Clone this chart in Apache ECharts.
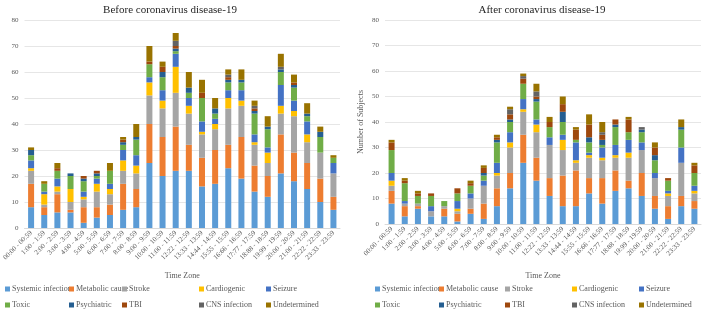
<!DOCTYPE html>
<html><head><meta charset="utf-8">
<script src="https://cdn.jsdelivr.net/npm/echarts@6/dist/echarts.min.js"></script>
<style>html,body{margin:0;padding:0;background:#fff}#c{width:709px;height:312px}</style>
</head><body><div id="c"></div>
<script>
const categories = ["00:00 - 00:59","1:00 - 1:59","2:00 - 2:59","3:00 - 3:59","4:00 - 4:59","5:00 - 5:59","6:00 - 6:59","7:00 - 7:59","8:00 - 8:59","9:00 - 9:59","10:00 - 10:59","11:00 - 11:59","12:22 - 12:59","13:33 - 13:59","14:44 - 14:59","15:55 - 15:59","16:66 - 16:59","17:77 - 17:59","18:88 - 18:59","19:99 - 19:59","20:00 - 20:59","21:00 - 21:59","22:22 - 22:59","23:33 - 23:59"];
const seriesNames = ["Systemic infection","Metabolic cause","Stroke","Cardiogenic","Seizure","Toxic","Psychiatric","TBI","CNS infection","Undetermined"];
const colors = ["#5B9BD5","#ED7D31","#A5A5A5","#FFC000","#4472C4","#70AD47","#255E91","#9E480E","#636363","#997300"];
const yTicks = [0,10,20,30,40,50,60,70,80];

// Before COVID-19
const beforeSystemic   = [8,5,6,6,2,4,5,7,8,25,20,22,22,16,17,23,19,14,12,21,18,15,10,7];
const beforeMetabolic  = [9,3,7,1,6,4,4,10,7,15,15,17,10,11,13,9,16,10,8,15,11,10,9,5];
const beforeStroke     = [5,1,1,3,3,6,4,5,6,11,11,13,12,9,8,14,12,8,5,8,14,8,10,9];
const beforeCardio     = [1,4,2,5,1,3,2,4,3,5,3,10,3,1,2,4,2,1,4,3,2,3,0,0];
const beforeSeizure    = [3,1,3,0,2,2,2,4,4,2,4,5,3,4,2,3,4,3,2,8,4,5,0,4];
const beforeToxic      = [2,3,3,5,4,1,5,2,6,5,5,1,2,9,2,3,3,8,7,5,5,2,6,2];
const beforePsych      = [2,0,0,1,1,1,0,1,1,0,2,1,2,0,2,1,1,1,1,1,1,1,2,0];
const beforeTBI        = [0,0,1,0,1,1,0,1,0,1,2,1,0,2,0,1,0,1,0,0,1,0,0,0];
const beforeCNS        = [0,0,0,0,0,0,0,0,0,0,0,2,0,0,0,1,0,1,0,1,0,0,0,0];
const beforeUndet      = [1,1,2,0,0,0,3,1,5,6,2,3,6,5,4,2,4,2,4,5,3,4,2,1];

// After COVID-19
const afterSystemic    = [8,3,6,3,3,1,4,2,7,14,24,17,11,7,7,12,8,13,14,11,6,2,7,6];
const afterMetabolic   = [5,4,1,0,3,3,2,6,7,6,11,9,7,12,14,6,10,8,3,9,5,5,4,3];
const afterStroke      = [2,1,1,2,1,1,4,7,5,10,9,10,13,10,3,8,7,5,9,9,7,4,13,3];
const afterCardio      = [2,0,0,0,0,1,0,0,1,2,1,3,0,4,1,1,1,1,2,0,0,1,0,1];
const afterSeizure     = [3,1,0,2,0,3,2,2,4,4,4,2,3,2,7,1,4,4,5,3,2,1,6,2];
const afterToxic       = [9,7,3,4,2,3,3,2,8,4,6,7,4,5,1,4,1,7,3,4,5,4,7,5];
const afterPsych       = [0,0,0,0,0,0,0,1,1,1,0,1,0,4,0,2,2,1,0,1,2,0,1,0];
const afterTBI         = [3,1,1,1,0,2,1,2,1,2,2,1,2,3,4,5,2,2,5,0,3,1,0,3];
const afterCNS         = [0,0,0,0,0,0,0,0,0,2,1,2,0,0,0,0,1,0,0,1,0,0,0,0];
const afterUndet       = [1,1,1,0,0,0,1,1,1,1,1,3,2,3,1,4,4,0,1,0,2,0,3,1];

const beforeData = [beforeSystemic,beforeMetabolic,beforeStroke,beforeCardio,beforeSeizure,beforeToxic,beforePsych,beforeTBI,beforeCNS,beforeUndet];
const afterData = [afterSystemic,afterMetabolic,afterStroke,afterCardio,afterSeizure,afterToxic,afterPsych,afterTBI,afterCNS,afterUndet];

const FONT = "Liberation Serif";
const txt = "#595959";

function xAxis(gi){
  return {type:'category', gridIndex:gi, data:categories,
    axisTick:{show:false}, axisLine:{lineStyle:{color:'#d9d9d9'}},
    axisLabel:{rotate:45, fontSize:7, color:txt, fontFamily:FONT, interval:0, margin:4},
    name:'Time Zone', nameLocation:'middle', nameGap:gi===0?44:48,
    nameTextStyle:{fontSize:8, color:txt, fontFamily:FONT}};
}
function yAxis(gi){
  const o = {type:'value', gridIndex:gi, min:0, max:80, interval:10,
    axisLine:{show:false}, axisTick:{show:false},
    splitLine:{lineStyle:{color:'#e6e6e6'}},
    axisLabel:{fontSize:7, color:txt, fontFamily:FONT, margin:6,
      formatter:v=>yTicks.includes(v)?String(v):''}};
  if(gi===1){ o.name='Number of Subjects'; o.nameLocation='middle'; o.nameGap=20;
    o.nameTextStyle={fontSize:8,color:txt,fontFamily:FONT}; }
  return o;
}
const series = [];
[beforeData, afterData].forEach((d,gi)=>{
  d.forEach((arr,i)=>{
    series.push({type:'bar', name:seriesNames[i], stack:'s'+gi, xAxisIndex:gi, yAxisIndex:gi,
      data:arr, barWidth:6, itemStyle:{color:colors[i]}, emphasis:{disabled:true}});
  });
});
const legends = [];
const colXL = [5,69,122,199,266];
const colXR = [375,439,505,572,639];
[colXL,colXR].forEach(cols=>{
  cols.forEach((x,c)=>{
    legends.push({orient:'vertical', left:x, top:285, itemWidth:5, itemHeight:5, itemGap:8,
      padding:0, icon:'rect', data:[seriesNames[c], seriesNames[c+5]],
      textStyle:{fontSize:8, color:txt, fontFamily:FONT, padding:[0,0,0,-3]}});
  });
});
const chart = echarts.init(document.getElementById('c'), null, {renderer:'canvas'});
chart.setOption({
  animation:false,
  color:colors,
  title:[
    {text:'Before coronavirus disease-19', left:165, textAlign:'center', top:0,
      textStyle:{fontSize:11, fontWeight:'normal', color:'#262626', fontFamily:FONT}},
    {text:'After coronavirus disease-19', left:537, textAlign:'center', top:0,
      textStyle:{fontSize:11, fontWeight:'normal', color:'#262626', fontFamily:FONT}}
  ],
  grid:[
    {left:16, right:369, top:20, bottom:84, containLabel:false},
    {left:385, right:8, top:20, bottom:88, containLabel:false}
  ],
  xAxis:[xAxis(0), xAxis(1)],
  yAxis:[yAxis(0), yAxis(1)],
  legend:legends,
  series:series
});
</script></body></html>
